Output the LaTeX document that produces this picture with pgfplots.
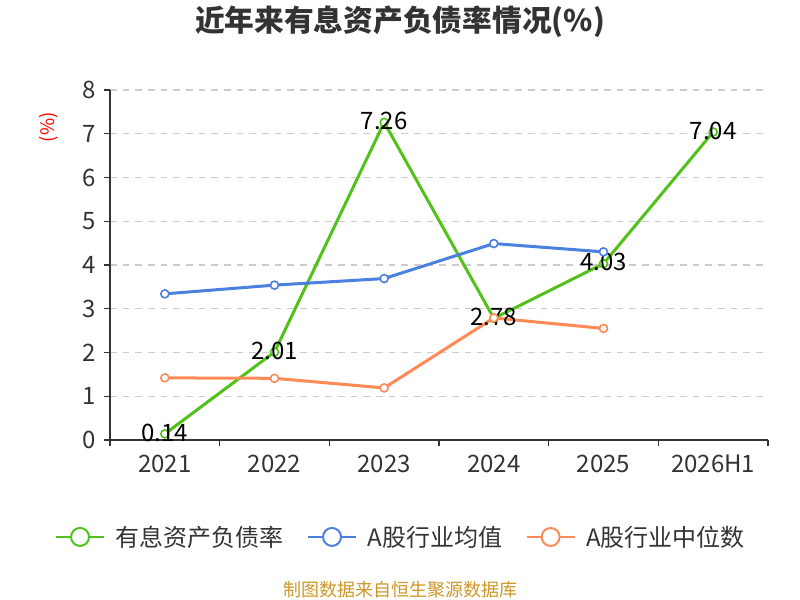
\documentclass[border=0pt]{standalone}
\usepackage{fontspec}
\setmainfont{Noto Sans CJK SC}
\usepackage{pgfplots}
\pgfplotsset{compat=1.18}
\definecolor{cgreen}{RGB}{82,194,26}
\definecolor{cblue}{RGB}{74,128,224}
\definecolor{corange}{RGB}{255,138,88}
\definecolor{ctext}{RGB}{51,51,51}
\definecolor{cgrid}{RGB}{204,204,204}
\definecolor{csrc}{RGB}{204,150,40}
\begin{document}
\begin{tikzpicture}[x=1pt,y=1pt]
\path[use as bounding box] (0,0) rectangle (600,450);
\node[font=\fontsize{22.3}{26}\selectfont\bfseries, text=ctext] at (300,433.5) {近年来有息资产负债率情况(\%)};
\node[font=\fontsize{13.5}{16}\selectfont, text=csrc] at (300,7.5) {制图数据来自恒生聚源数据库};
\begin{axis}[
  at={(82.5pt,120pt)}, anchor=south west,
  scale only axis, width=493.5pt, height=262.5pt,
  xmin=-0.5, xmax=5.5, ymin=0, ymax=8,
  axis lines*=left,
  axis line style={ctext, line width=0.9pt},
  xtick={0,1,2,3,4,5},
  xticklabels={2021,2022,2023,2024,2025,2026H1},
  major x tick style={draw=none},
  minor xtick={-0.5,0.5,1.5,2.5,3.5,4.5,5.5},
  minor tick length=4.5pt,
  major tick length=4.5pt,
  tick align=outside,
  tick style={ctext, line width=0.9pt},
  ytick={0,1,2,3,4,5,6,7,8},
  ymajorgrids,
  grid style={cgrid, line width=1.1pt, dash pattern=on 5pt off 4.5pt},
  /pgf/number format/assume math mode=true,
  tick label style={font=\fontsize{18}{20}\selectfont, text=ctext},
  xticklabel style={yshift=-3pt},
  yticklabel style={xshift=-2.5pt},
  ylabel={(\%)},
  ylabel style={at={(axis description cs:-0.0927,0.894)}, anchor=center, text=red, font=\fontsize{14}{16}\selectfont},
  legend style={at={(axis description cs:0.4427,-0.277)}, anchor=center, draw=none, fill=none,
    legend columns=3, font=\fontsize{18}{20}\selectfont, text=ctext,
    /tikz/every odd column/.append style={column sep=6pt},
    /tikz/every even column/.append style={column sep=15.5pt}},
  legend image code/.code={
    \draw[#1,mark=none,line width=1.5pt] (0pt,0pt) -- (36pt,0pt);
    \draw[#1,mark=none,line width=1.5pt,fill=white] (18pt,0pt) circle (6.75pt);
  },
  clip=false,
]
\addplot[cgreen, line width=2.25pt, mark=*, mark size=3pt, mark options={fill=white, line width=1.2pt},
  nodes near coords, point meta=explicit symbolic,
  every node near coord/.append style={anchor=center, yshift=1pt, font=\fontsize{18}{20}\selectfont, text=black}]
  table[meta=label] {
x y label
0 0.14 0.14
1 2.01 2.01
2 7.26 7.26
3 2.78 2.78
4 4.03 4.03
5 7.04 7.04
};
\addlegendentry{有息资产负债率}
\addplot[cblue, line width=2.25pt, mark=*, mark size=3pt, mark options={fill=white, line width=1.2pt}]
  coordinates {(0,3.34) (1,3.54) (2,3.69) (3,4.49) (4,4.30)};
\addlegendentry{A股行业均值}
\addplot[corange, line width=2.25pt, mark=*, mark size=3pt, mark options={fill=white, line width=1.2pt}]
  coordinates {(0,1.42) (1,1.41) (2,1.19) (3,2.79) (4,2.55)};
\addlegendentry{A股行业中位数}
\end{axis}
\end{tikzpicture}
\end{document}
